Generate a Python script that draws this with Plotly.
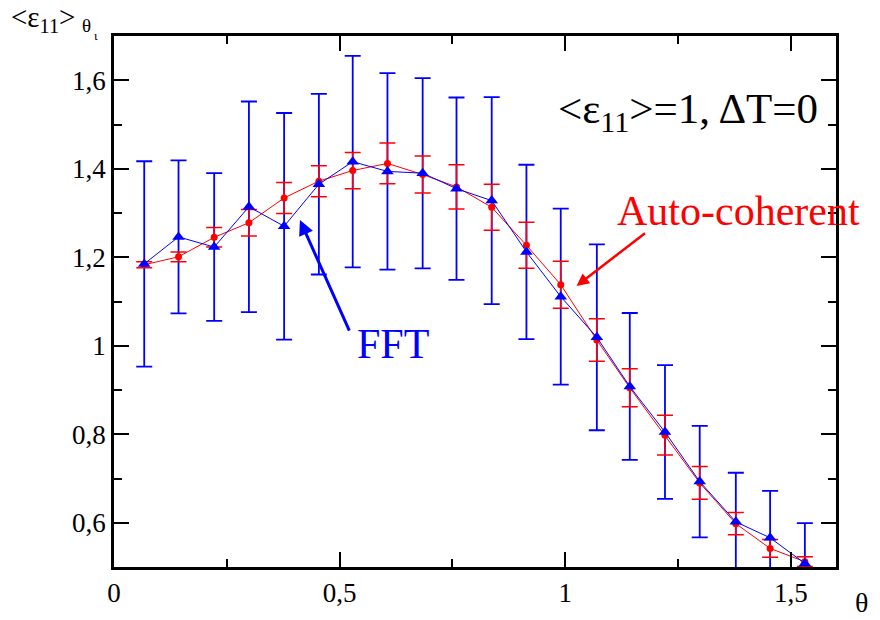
import plotly.graph_objects as go

# ---- data ----
theta = [0.067, 0.143, 0.222, 0.299, 0.377, 0.454, 0.529, 0.606, 0.684, 0.759,
         0.837, 0.914, 0.990, 1.070, 1.143, 1.221, 1.298, 1.378, 1.454, 1.531]
fft_y = [1.185, 1.246, 1.223, 1.314, 1.270, 1.365, 1.416, 1.394, 1.390, 1.355,
         1.328, 1.212, 1.111, 1.019, 0.908, 0.805, 0.693, 0.602, 0.566, 0.508]
fft_err = [0.232, 0.173, 0.167, 0.238, 0.256, 0.204, 0.239, 0.222, 0.215, 0.206,
           0.234, 0.197, 0.199, 0.210, 0.166, 0.151, 0.126, 0.111, 0.106, 0.091]
auto_y = [1.183, 1.201, 1.245, 1.278, 1.334, 1.372, 1.396, 1.412, 1.387, 1.359,
          1.313, 1.227, 1.138, 1.013, 0.905, 0.798, 0.690, 0.598, 0.542, 0.512]
auto_err = [0.007, 0.011, 0.022, 0.030, 0.035, 0.035, 0.041, 0.046, 0.042, 0.050,
            0.052, 0.052, 0.053, 0.048, 0.043, 0.045, 0.037, 0.025, 0.020, 0.011]

FONT = "Liberation Serif"
BLUE = "#0000ff"
RED = "#ff0000"

fig = go.Figure()

# FFT error bars (drawn underneath)
fig.add_trace(go.Scatter(
    x=theta, y=fft_y, mode="markers",
    marker=dict(size=1, color="rgba(0,0,0,0)"),
    error_y=dict(type="data", array=fft_err, visible=True, color=BLUE, thickness=1.8, width=8),
    showlegend=False, hoverinfo="skip"))

# Auto-coherent
fig.add_trace(go.Scatter(
    x=theta, y=auto_y, mode="lines+markers", name="Auto-coherent",
    line=dict(color=RED, width=1),
    marker=dict(symbol="circle", size=7, color=RED),
    error_y=dict(type="data", array=auto_err, visible=True, color=RED, thickness=1.5, width=8),
    showlegend=False))

# FFT line + markers
fig.add_trace(go.Scatter(
    x=theta, y=fft_y, mode="lines+markers", name="FFT",
    line=dict(color=BLUE, width=1),
    marker=dict(symbol="triangle-up", size=11, color=BLUE),
    showlegend=False))

axis_common = dict(
    showgrid=False, zeroline=False, showline=True, linecolor="black", linewidth=2.5,
    mirror="allticks", ticks="inside", ticklen=15, tickwidth=2, tickcolor="black",
    tickfont=dict(family=FONT, size=27, color="black"),
)

fig.update_xaxes(range=[0, 1.6], tick0=0, dtick=0.5,
                 minor=dict(ticks="inside", ticklen=8, tickwidth=2, tickcolor="black", dtick=0.25, tick0=0),
                 **axis_common)
fig.update_yaxes(range=[0.5, 1.7], tick0=0.6, dtick=0.2,
                 minor=dict(ticks="inside", ticklen=8, tickwidth=2, tickcolor="black", dtick=0.1, tick0=0.5),
                 **axis_common)

L, R, T, B = 114, 44, 36, 48
W, H = 880, 620
pw, ph = W - L - R, H - T - B

def px(xp):
    return (xp - L) / pw

def py(yp):
    return (H - B - yp) / ph

ann = []
# annotation arrows
ann.append(dict(x=0.412, y=1.284, ax=0.523, ay=1.031, xref="x", yref="y", axref="x", ayref="y",
                text="", showarrow=True, arrowhead=2, arrowsize=1, arrowwidth=3, arrowcolor=BLUE))
ann.append(dict(x=1.025, y=1.135, ax=1.180, ay=1.257, xref="x", yref="y", axref="x", ayref="y",
                text="", showarrow=True, arrowhead=2, arrowsize=1, arrowwidth=2.5, arrowcolor=RED))
# labels
ann.append(dict(x=0.618, y=1.004, xref="x", yref="y", text="FFT", showarrow=False,
                font=dict(family=FONT, size=42, color=BLUE), xanchor="center", yanchor="middle"))
ann.append(dict(x=1.383, y=1.304, xref="x", yref="y", text="Auto-coherent", showarrow=False,
                font=dict(family=FONT, size=42, color=RED), xanchor="center", yanchor="middle"))
ann.append(dict(x=1.273, y=1.528, xref="x", yref="y", text="&lt;ε<sub>11</sub>&gt;=1, ΔT=0",
                showarrow=False, font=dict(family=FONT, size=43, color="black"),
                xanchor="center", yanchor="middle"))
# y-axis title pieces
ann.append(dict(x=px(10), y=py(0), xref="paper", yref="paper", text="&lt;ε<sub>11</sub>&gt;",
                showarrow=False, font=dict(family=FONT, size=29, color="black"),
                xanchor="left", yanchor="top", borderpad=0))
ann.append(dict(x=px(80), y=py(25), xref="paper", yref="paper", text="θ",
                showarrow=False, font=dict(family=FONT, size=19, color="black"),
                xanchor="left", yanchor="middle"))
ann.append(dict(x=px(92), y=py(35), xref="paper", yref="paper", text="ι",
                showarrow=False, font=dict(family=FONT, size=13, color="black"),
                xanchor="left", yanchor="middle"))
# x-axis title
ann.append(dict(x=px(861), y=py(608), xref="paper", yref="paper", text="θ",
                showarrow=False, font=dict(family=FONT, size=28, color="black"),
                xanchor="center", yanchor="middle"))

fig.update_layout(
    width=W, height=H, margin=dict(l=L, r=R, t=T, b=B),
    paper_bgcolor="white", plot_bgcolor="white",
    separators=", ", showlegend=False, annotations=ann,
    font=dict(family=FONT, color="black"),
)

fig.write_html("out.html", config={"displayModeBar": False},
               post_script="document.body.style.margin='0';document.body.style.overflow='hidden';")
